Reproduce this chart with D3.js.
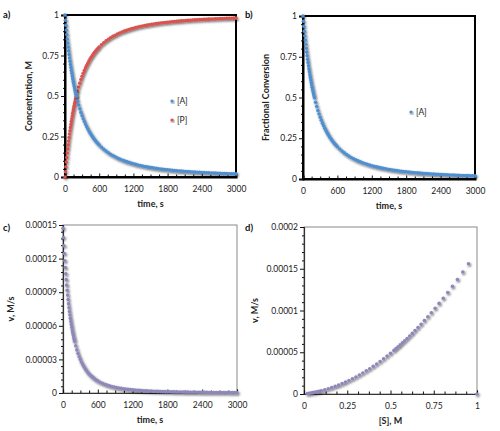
<!DOCTYPE html>
<html>
<head>
<meta charset="utf-8">
<script src="https://cdn.jsdelivr.net/npm/d3@7"></script>
<style>
  body { margin: 0; background: #fff; }
  text { font-family: "Liberation Sans Narrow", Lato, sans-serif; }
</style>
</head>
<body>
<svg id="chart" width="500" height="431"></svg>
<script>
// sampling times (s) for panels a-c
const time = [0, 8, 16, 24, 32, 40, 48, 56, 64, 72, 80, 88, 96, 104, 112, 120, 128, 136, 144, 152, 160, 168, 176, 184, 192, 200,
  220, 240, 260, 280, 300, 320, 340, 360, 380, 400, 420, 440, 460, 480, 500, 520, 540, 560, 580, 600,
  640, 680, 720, 760, 800, 840, 880, 920, 960, 1000, 1040, 1080, 1120, 1160, 1200, 1240, 1280, 1320, 1360, 1400,
  1440, 1480, 1520, 1560, 1600, 1640, 1680, 1720, 1760, 1800, 1840, 1880, 1920, 1960, 2000, 2040, 2080, 2120, 2160, 2200,
  2240, 2280, 2320, 2360, 2400, 2440, 2480, 2520, 2560, 2600, 2640, 2680, 2720, 2760, 2800, 2840, 2880, 2920, 2960, 3000];

// [A] (M), also the fractional conversion in panel b
const concA = [1, 0.9675, 0.9365, 0.9070, 0.8789, 0.8521, 0.8264, 0.8020, 0.7785, 0.7561, 0.7347, 0.7141, 0.6944, 0.6756, 0.6574, 0.6400, 0.6233, 0.6072, 0.5917, 0.5768, 0.5625, 0.5487, 0.5354, 0.5226, 0.5102, 0.4983,
  0.4702, 0.4444, 0.4207, 0.3989, 0.3787, 0.3600, 0.3427, 0.3265, 0.3115, 0.2975, 0.2844, 0.2722, 0.2608, 0.2500, 0.2399, 0.2304, 0.2215, 0.2130, 0.2051, 0.1975,
  0.1837, 0.1712, 0.1600, 0.1498, 0.1406, 0.1322, 0.1246, 0.1176, 0.1111, 0.1052, 0.0997, 0.0947, 0.0900, 0.0857, 0.0816, 0.0779, 0.0744, 0.0711, 0.0681, 0.0652,
  0.0625, 0.0600, 0.0576, 0.0554, 0.0533, 0.0513, 0.0494, 0.0476, 0.0459, 0.0443, 0.0428, 0.0414, 0.0400, 0.0387, 0.0375, 0.0363, 0.0352, 0.0341, 0.0331, 0.0321,
  0.0311, 0.0302, 0.0294, 0.0286, 0.0278, 0.0270, 0.0263, 0.0256, 0.0249, 0.0243, 0.0237, 0.0231, 0.0225, 0.0219, 0.0214, 0.0209, 0.0204, 0.0199, 0.0195, 0.0190];

// [P] (M)
const concP = [0, 0.0325, 0.0635, 0.0930, 0.1211, 0.1479, 0.1736, 0.1980, 0.2215, 0.2439, 0.2653, 0.2859, 0.3056, 0.3244, 0.3426, 0.3600, 0.3767, 0.3928, 0.4083, 0.4232, 0.4375, 0.4513, 0.4646, 0.4774, 0.4898, 0.5017,
  0.5298, 0.5556, 0.5793, 0.6011, 0.6213, 0.6400, 0.6573, 0.6735, 0.6885, 0.7025, 0.7156, 0.7278, 0.7392, 0.7500, 0.7601, 0.7696, 0.7785, 0.7870, 0.7949, 0.8025,
  0.8163, 0.8288, 0.8400, 0.8502, 0.8594, 0.8678, 0.8754, 0.8824, 0.8889, 0.8948, 0.9003, 0.9053, 0.9100, 0.9143, 0.9184, 0.9221, 0.9256, 0.9289, 0.9319, 0.9348,
  0.9375, 0.9400, 0.9424, 0.9446, 0.9467, 0.9487, 0.9506, 0.9524, 0.9541, 0.9557, 0.9572, 0.9586, 0.9600, 0.9613, 0.9625, 0.9637, 0.9648, 0.9659, 0.9669, 0.9679,
  0.9689, 0.9698, 0.9706, 0.9714, 0.9722, 0.9730, 0.9737, 0.9744, 0.9751, 0.9757, 0.9763, 0.9769, 0.9775, 0.9781, 0.9786, 0.9791, 0.9796, 0.9801, 0.9805, 0.9810];

// v (M/s) against time
const rate = [14.70e-5, 13.89e-5, 13.15e-5, 12.45e-5, 11.80e-5, 11.20e-5, 10.64e-5, 10.12e-5, 9.63e-5, 9.17e-5, 8.74e-5, 8.34e-5, 7.96e-5, 7.61e-5, 7.27e-5, 6.96e-5, 6.66e-5, 6.38e-5, 6.12e-5, 5.87e-5, 5.63e-5, 5.41e-5, 5.20e-5, 5.00e-5, 4.81e-5, 4.63e-5,
  4.22e-5, 3.85e-5, 3.53e-5, 3.24e-5, 2.98e-5, 2.75e-5, 2.55e-5, 2.36e-5, 2.19e-5, 2.04e-5, 1.90e-5, 1.77e-5, 1.66e-5, 1.55e-5, 1.46e-5, 1.37e-5, 1.29e-5, 1.21e-5, 1.14e-5, 1.08e-5,
  0.965e-5, 0.867e-5, 0.781e-5, 0.707e-5, 0.642e-5, 0.585e-5, 0.534e-5, 0.489e-5, 0.449e-5, 0.414e-5, 0.382e-5, 0.353e-5, 0.327e-5, 0.304e-5, 0.283e-5, 0.264e-5, 0.246e-5, 0.230e-5, 0.216e-5, 0.202e-5,
  0.190e-5, 0.179e-5, 0.168e-5, 0.159e-5, 0.150e-5, 0.142e-5, 0.134e-5, 0.127e-5, 0.120e-5, 0.114e-5, 0.108e-5, 0.103e-5, 0.098e-5, 0.093e-5, 0.089e-5, 0.085e-5, 0.081e-5, 0.077e-5, 0.074e-5, 0.071e-5,
  0.068e-5, 0.065e-5, 0.062e-5, 0.060e-5, 0.057e-5, 0.055e-5, 0.053e-5, 0.051e-5, 0.049e-5, 0.047e-5, 0.045e-5, 0.044e-5, 0.042e-5, 0.041e-5, 0.039e-5, 0.038e-5, 0.036e-5, 0.035e-5, 0.034e-5, 0.033e-5];

// panel d: v against [S]
const substrate = [1, 0.951, 0.918, 0.887, 0.858, 0.831, 0.805, 0.781, 0.758, 0.736, 0.716, 0.696, 0.677, 0.659, 0.642, 0.626, 0.611, 0.596, 0.582, 0.569, 0.556, 0.544, 0.532, 0.520,
  0.50, 0.48, 0.46, 0.44, 0.42, 0.40, 0.38, 0.36, 0.34, 0.32, 0.30, 0.28, 0.26, 0.24, 0.22, 0.20, 0.18, 0.16, 0.14, 0.12, 0.10, 0.09, 0.08, 0.07, 0.06, 0.05, 0.04, 0.03, 0.02];
const substrateRate = [0, 15.59e-5, 14.61e-5, 13.71e-5, 12.89e-5, 12.16e-5, 11.47e-5, 10.85e-5, 10.27e-5, 9.73e-5, 9.26e-5, 8.80e-5, 8.36e-5, 7.97e-5, 7.60e-5, 7.26e-5, 6.95e-5, 6.65e-5, 6.38e-5, 6.13e-5, 5.88e-5, 5.65e-5, 5.44e-5, 5.22e-5,
  4.87e-5, 4.54e-5, 4.21e-5, 3.90e-5, 3.60e-5, 3.31e-5, 3.03e-5, 2.77e-5, 2.51e-5, 2.27e-5, 2.04e-5, 1.82e-5, 1.61e-5, 1.42e-5, 1.24e-5, 1.06e-5, 0.91e-5, 0.76e-5, 0.62e-5, 0.50e-5, 0.39e-5, 0.33e-5, 0.28e-5, 0.24e-5, 0.20e-5, 0.16e-5, 0.12e-5, 0.08e-5, 0.05e-5];

// tick values and labels
const timeTicks = [0, 600, 1200, 1800, 2400, 3000];
const concTicks = [0, 0.25, 0.5, 0.75, 1];
const concTickLabels = ["0", "0.25", "0.5", "0.75", "1"];
const rateTicks = [0, 3e-5, 6e-5, 9e-5, 12e-5, 15e-5];
const rateTickLabels = ["0", "0.00003", "0.00006", "0.00009", "0.00012", "0.00015"];
const substrateTicks = [0, 0.25, 0.5, 0.75, 1];
const substrateTickLabels = ["0", "0.25", "0.5", "0.75", "1"];
const substrateRateTicks = [0, 5e-5, 10e-5, 15e-5, 20e-5];
const substrateRateTickLabels = ["0", "0.00005", "0.0001", "0.00015", "0.0002"];

const blue = "#4f8fd0", red = "#d9534f", purple = "#8d88ba";

const svg = d3.select("#chart");

// soft dark shadow under the markers
svg.append("defs").append("filter")
    .attr("id", "shadow")
    .attr("x", "-20%").attr("y", "-20%").attr("width", "140%").attr("height", "140%")
  .append("feDropShadow")
    .attr("dx", 1).attr("dy", 1.3).attr("stdDeviation", 0.9)
    .attr("flood-color", "#000").attr("flood-opacity", 0.6);

function minorTicks(ticks, n) {
  let out = [];
  for (let i = 0; i < ticks.length - 1; i++) {
    const step = (ticks[i + 1] - ticks[i]) / n;
    for (let k = 1; k < n; k++) out.push(ticks[i] + k * step);
  }
  return out;
}

function drawPanel(p) {
  const x = d3.scaleLinear().domain(p.xDomain).range([p.left, p.right]);
  const y = d3.scaleLinear().domain(p.yDomain).range([p.bottom, p.top]);
  const g = svg.append("g");

  // frame
  g.append("rect")
    .attr("x", p.left).attr("y", p.top)
    .attr("width", p.right - p.left).attr("height", p.bottom - p.top)
    .attr("fill", "none")
    .attr("stroke", p.frameColor)
    .attr("stroke-width", p.frameWidth);

  // y axis: minor then major ticks
  g.append("g")
    .attr("transform", `translate(${p.left},0)`)
    .call(d3.axisLeft(y).tickValues(minorTicks(p.yTicks, 5)).tickSize(2).tickFormat(""))
    .call(s => s.select(".domain").remove());
  const yAxis = g.append("g")
    .attr("transform", `translate(${p.left},0)`)
    .call(d3.axisLeft(y).tickValues(p.yTicks).tickSize(4).tickPadding(2)
      .tickFormat((d, i) => p.yLabels[i]));

  // x axis: ticks pointing inward
  g.append("g")
    .attr("transform", `translate(0,${p.bottom})`)
    .call(d3.axisBottom(x).tickValues(minorTicks(p.xTicks, 4)).tickSize(-2.5).tickFormat(""))
    .call(s => s.select(".domain").remove());
  const xAxis = g.append("g")
    .attr("transform", `translate(0,${p.bottom})`)
    .call(d3.axisBottom(x).tickValues(p.xTicks).tickSize(-3.5).tickPadding(9)
      .tickFormat((d, i) => p.xLabels[i]));

  g.selectAll(".tick line").attr("stroke", "#111");
  [xAxis, yAxis].forEach(a => {
    a.select(".domain").attr("stroke", p.axisColor).attr("stroke-width", p.axisWidth);
    a.selectAll("text").attr("fill", "#222").style("font-size", "8.5px");
  });

  // axis titles
  g.append("text")
    .attr("x", (p.left + p.right) / 2).attr("y", p.bottom + 30)
    .attr("text-anchor", "middle")
    .style("font-size", "9px").style("font-weight", "bold").attr("fill", "#222")
    .text(p.xTitle);
  g.append("text")
    .attr("transform", `translate(${p.yTitleX},${(p.top + p.bottom) / 2}) rotate(-90)`)
    .attr("text-anchor", "middle")
    .style("font-size", "9px").style("font-weight", "bold").attr("fill", "#222")
    .text(p.yTitle);

  // panel letter
  g.append("text")
    .attr("x", p.labelX).attr("y", p.labelY)
    .style("font-size", "9.5px").style("font-weight", "bold").attr("fill", "#111")
    .text(p.label);

  // series
  p.series.forEach(s => {
    g.append("g").attr("filter", "url(#shadow)")
      .selectAll("circle")
      .data(s.xs.map((v, i) => [v, s.ys[i]]))
      .join("circle")
        .attr("cx", d => x(d[0]))
        .attr("cy", d => y(d[1]))
        .attr("r", 1.8)
        .attr("fill", s.color);
  });

  // legend
  (p.legend || []).forEach((l, i) => {
    g.append("circle")
      .attr("cx", l.x).attr("cy", l.y).attr("r", 1.6)
      .attr("fill", l.color).attr("filter", "url(#shadow)");
    g.append("text")
      .attr("x", l.x + 5).attr("y", l.y + 3)
      .style("font-size", "8.5px").attr("fill", "#222")
      .text(l.name);
  });
}

drawPanel({
  left: 65, right: 236, top: 15, bottom: 177,
  xDomain: [0, 3000], yDomain: [0, 1],
  xTicks: timeTicks, xLabels: timeTicks.map(String),
  yTicks: concTicks, yLabels: concTickLabels,
  frameColor: "#000", frameWidth: 2, axisColor: "#000", axisWidth: 2,
  xTitle: "time, s", yTitle: "Concentration, M", yTitleX: 32,
  label: "a)", labelX: 3, labelY: 18,
  series: [
    { xs: time, ys: concP, color: red },
    { xs: time, ys: concA, color: blue }
  ],
  legend: [
    { x: 172, y: 101, color: blue, name: "[A]" },
    { x: 172, y: 120, color: red, name: "[P]" }
  ]
});

drawPanel({
  left: 303, right: 475, top: 16, bottom: 179,
  xDomain: [0, 3000], yDomain: [0, 1],
  xTicks: timeTicks, xLabels: timeTicks.map(String),
  yTicks: concTicks, yLabels: concTickLabels,
  frameColor: "#000", frameWidth: 2, axisColor: "#000", axisWidth: 2,
  xTitle: "time, s", yTitle: "Fractional Conversion", yTitleX: 269,
  label: "b)", labelX: 245, labelY: 18,
  series: [{ xs: time, ys: concA, color: blue }],
  legend: [{ x: 411, y: 112, color: blue, name: "[A]" }]
});

drawPanel({
  left: 63, right: 237, top: 225, bottom: 393,
  xDomain: [0, 3000], yDomain: [0, 15e-5],
  xTicks: timeTicks, xLabels: timeTicks.map(String),
  yTicks: rateTicks, yLabels: rateTickLabels,
  frameColor: "#8a8a8a", frameWidth: 1, axisColor: "#333", axisWidth: 1.2,
  xTitle: "time, s", yTitle: "v, M/s", yTitleX: 14,
  label: "c)", labelX: 3, labelY: 231,
  series: [{ xs: time, ys: rate, color: purple }]
});

drawPanel({
  left: 304, right: 477, top: 227, bottom: 394,
  xDomain: [0, 1], yDomain: [0, 20e-5],
  xTicks: substrateTicks, xLabels: substrateTickLabels,
  yTicks: substrateRateTicks, yLabels: substrateRateTickLabels,
  frameColor: "#8a8a8a", frameWidth: 1, axisColor: "#333", axisWidth: 1.2,
  xTitle: "[S], M", yTitle: "v, M/s", yTitleX: 258,
  label: "d)", labelX: 245, labelY: 231,
  series: [{ xs: substrate, ys: substrateRate, color: purple }]
});
</script>
</body>
</html>
